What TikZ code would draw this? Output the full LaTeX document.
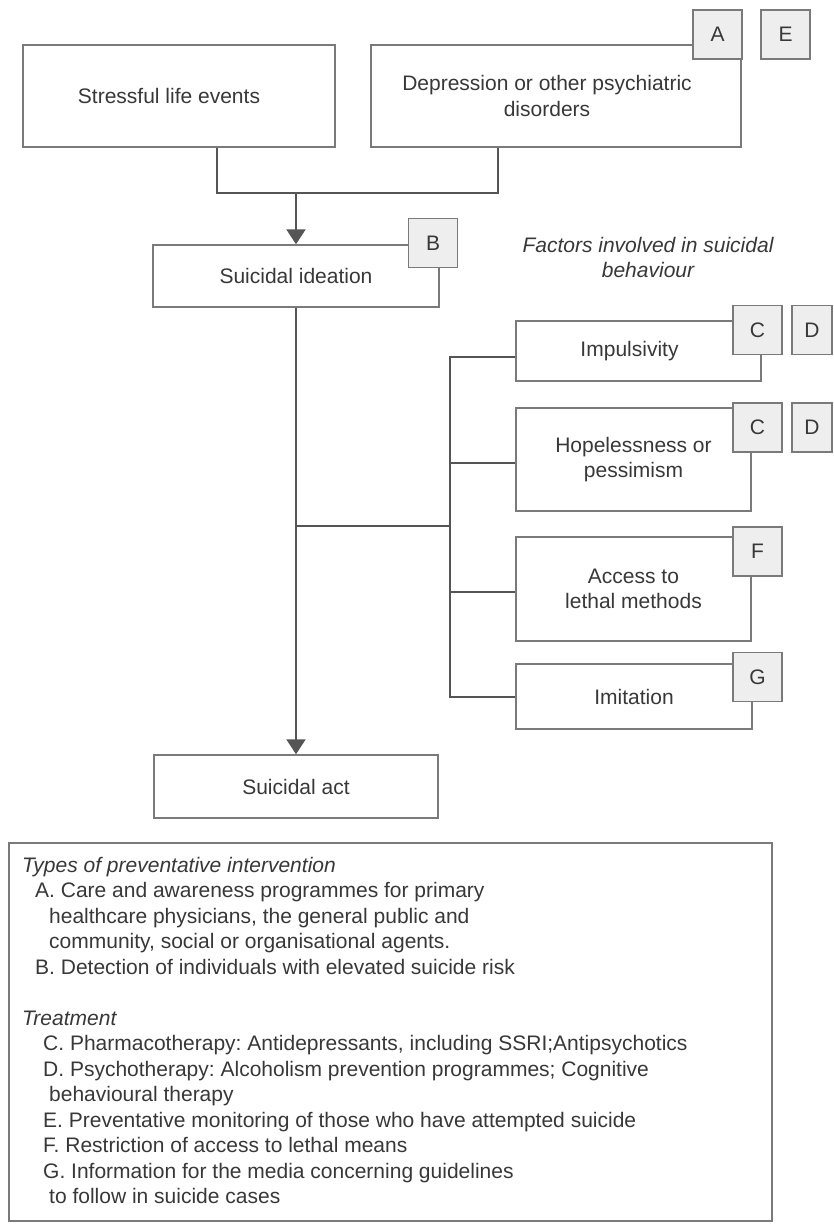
\documentclass[tikz,border=0pt]{standalone}
\usepackage{fontspec}
\setmainfont{Liberation Sans}
\usetikzlibrary{arrows.meta,calc}
\definecolor{boxline}{HTML}{7A7A7A}
\definecolor{connc}{HTML}{555555}
\definecolor{txt}{HTML}{383838}
\definecolor{tagfill}{HTML}{EEEEEE}
\begin{document}
\frenchspacing
\begin{tikzpicture}[x=1pt,y=-1pt,
  font=\fontsize{21}{25.5}\selectfont\frenchspacing, text=txt,
  box/.style={draw=boxline, line width=1.5pt, fill=white, inner sep=0pt, align=center},
  tag/.style={draw=boxline, line width=1.5pt, fill=tagfill, inner sep=0pt, minimum width=49pt, minimum height=49pt},
  conn/.style={draw=connc, line width=2.2pt},
  arr/.style={conn, -{Triangle[width=19pt,length=15pt]}},
  item/.style={anchor=base west, inner sep=0pt}
]
\useasboundingbox (0,0) rectangle (834,1224);
\fill[white] (0,0) rectangle (834,1224);

% main boxes
\node[box, minimum width=312pt, minimum height=102pt] (stress) at (179,96) {\hspace*{-20pt}Stressful life events};
\node[box, minimum width=370pt, minimum height=102pt] (dep) at (556,96) {\hspace*{-18pt}Depression or other psychiatric\\\hspace*{-18pt}disorders};
\node[box, minimum width=286pt, minimum height=62pt] (idea) at (296,276) {Suicidal ideation};
\node[box, minimum width=245pt, minimum height=60pt] (imp) at (638.5,351) {\hspace*{-18pt}Impulsivity};
\node[box, minimum width=235pt, minimum height=103pt] (hope) at (633.5,459.5) {Hopelessness or\\pessimism};
\node[box, minimum width=235pt, minimum height=104pt] (acc) at (633.5,589) {Access to\\lethal methods};
\node[box, minimum width=236pt, minimum height=65pt] (imit) at (634,696.5) {Imitation};
\node[box, minimum width=284pt, minimum height=63pt] (act) at (296,786.5) {Suicidal act};

\node[align=center, font=\fontsize{21}{25.5}\selectfont\itshape] (factors) at (648,257.5) {Factors involved in suicidal\\behaviour};

% tags
\node[tag] (tA) at (717.5,34.5) {A};
\node[tag] (tE) at (785.5,34.5) {E};
\node[tag] (tB) at (433,243) {B};
\node[tag] (tC1) at (757.5,330) {C};
\node[tag, minimum width=40pt] (tD1) at (812,330) {D};
\node[tag] (tC2) at (757.5,427.5) {C};
\node[tag, minimum width=40pt] (tD2) at (812,427.5) {D};
\node[tag] (tF) at (757.5,551.5) {F};
\node[tag] (tG) at (757.5,677) {G};

% connectors
\coordinate (j1) at (217,193);
\coordinate (j2) at (498,193);
\coordinate (jm) at (296,193);
\draw[conn] (stress.south -| j1) -- (j1) -- (j2) -- (dep.south -| j2);
\draw[arr] (jm) -- (idea.north -| jm);
\draw[arr] (idea.south) -- (idea.south |- act.north);
\coordinate (mj) at (296,526);
\coordinate (bj) at (450,526);
\coordinate (bt) at (450,357);
\coordinate (b2) at (450,463);
\coordinate (b3) at (450,592);
\coordinate (bb) at (450,697);
\draw[conn] (mj) -- (bj);
\draw[conn] (bt -| imp.west) -- (bt) -- (bb) -- (bb -| imit.west);
\draw[conn] (b2) -- (b2 -| hope.west);
\draw[conn] (b3) -- (b3 -| acc.west);

% legend box
\node[box, fill=none, minimum width=763pt, minimum height=378pt] (legend) at (390.5,1032) {};
\node[item, font=\fontsize{21}{25.5}\selectfont\itshape] (l0) at (22,872) {Types of preventative intervention};
\node[item] (l1) at (35,897.5) {A. Care and awareness programmes for primary};
\node[item] (l2) at (49,923) {healthcare physicians, the general public and};
\node[item] (l3) at (49,948.5) {community, social or organisational agents.};
\node[item] (l4) at (35,974) {B. Detection of individuals with elevated suicide risk};
\node[item, font=\fontsize{21}{25.5}\selectfont\itshape] (l5) at (22,1025) {Treatment};
\node[item] (l6) at (43,1050.5) {C. Pharmacotherapy: Antidepressants, including SSRI;Antipsychotics};
\node[item] (l7) at (43,1076) {D. Psychotherapy: Alcoholism prevention programmes; Cognitive};
\node[item] (l8) at (49,1101.5) {behavioural therapy};
\node[item] (l9) at (43,1127) {E. Preventative monitoring of those who have attempted suicide};
\node[item] (l10) at (43,1152.5) {F. Restriction of access to lethal means};
\node[item] (l11) at (43,1178) {G. Information for the media concerning guidelines};
\node[item] (l12) at (49,1203.5) {to follow in suicide cases};
\end{tikzpicture}
\end{document}
